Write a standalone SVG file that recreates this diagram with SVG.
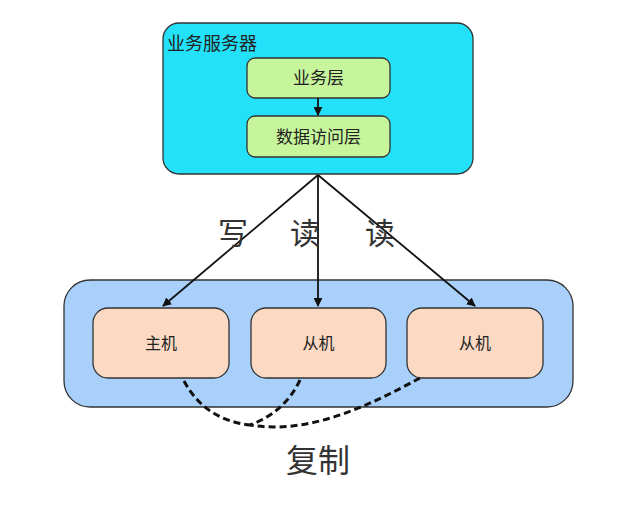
<svg xmlns="http://www.w3.org/2000/svg" width="640" height="509" viewBox="0 0 640 509">
<style>
text{font-family:"Noto Sans CJK SC","Noto Sans",sans-serif;fill:#222}
.n{font-size:16px;text-anchor:middle}
.m{font-size:17px;text-anchor:middle}
.l{font-size:30px;text-anchor:middle;fill:#333}
.g{fill:#c6f59c;stroke:#333;stroke-width:1.3}
.p{fill:#fcd9c3;stroke:#333;stroke-width:1.3}
.c{stroke:#111;stroke-width:1.8;fill:none}
.d{stroke:#111;stroke-width:3;fill:none;stroke-dasharray:7 4}
</style>
<defs>
<marker id="a" viewBox="0 0 10 10" refX="9" refY="5" markerWidth="5" markerHeight="5" orient="auto"><path d="M0,0L10,5L0,10z" fill="#111"/></marker>
</defs>
<rect width="640" height="509" fill="#fff"/>
<g id="server">
<rect x="163" y="23" width="310" height="151" rx="16" fill="#22e1f8" stroke="#333" stroke-width="1.3"/>
<text x="167" y="50" style="font-size:18px">业务服务器</text>
</g>
<g id="biz"><rect class="g" x="247" y="58" width="143" height="40" rx="8"/><text class="m" x="318.5" y="84">业务层</text></g>
<g id="dao"><rect class="g" x="247" y="116" width="143" height="41" rx="8"/><text class="m" x="318.5" y="143">数据访问层</text></g>
<g id="cluster"><rect x="64" y="280" width="509" height="127" rx="26" fill="#a8d0fa" stroke="#333" stroke-width="1.3"/></g>
<g id="master"><rect class="p" x="93" y="308" width="136" height="70" rx="15"/><text class="n" x="161" y="349">主机</text></g>
<g id="slave1"><rect class="p" x="251" y="308" width="135" height="70" rx="15"/><text class="n" x="318.5" y="349">从机</text></g>
<g id="slave2"><rect class="p" x="407" y="308" width="136" height="70" rx="15"/><text class="n" x="475" y="349">从机</text></g>
<g id="connectors">
<line class="c" x1="318" y1="98" x2="318" y2="115" marker-end="url(#a)"/>
<line class="c" x1="318" y1="175" x2="163" y2="306" marker-end="url(#a)"/>
<line class="c" x1="318" y1="175" x2="318" y2="306" marker-end="url(#a)"/>
<line class="c" x1="318" y1="175" x2="475" y2="306" marker-end="url(#a)"/>
<path class="d" d="M184,381 Q205,420 250,425"/>
<path class="d" d="M300,380 Q285,412 250,425"/>
<path class="d" d="M420,378 C370,405 310,435 250,425"/>
</g>
<text class="l" x="233" y="244">写</text>
<text class="l" x="305" y="244">读</text>
<text class="l" x="380" y="244">读</text>
<text class="l" x="318" y="472" style="font-size:32px">复制</text>
</svg>
